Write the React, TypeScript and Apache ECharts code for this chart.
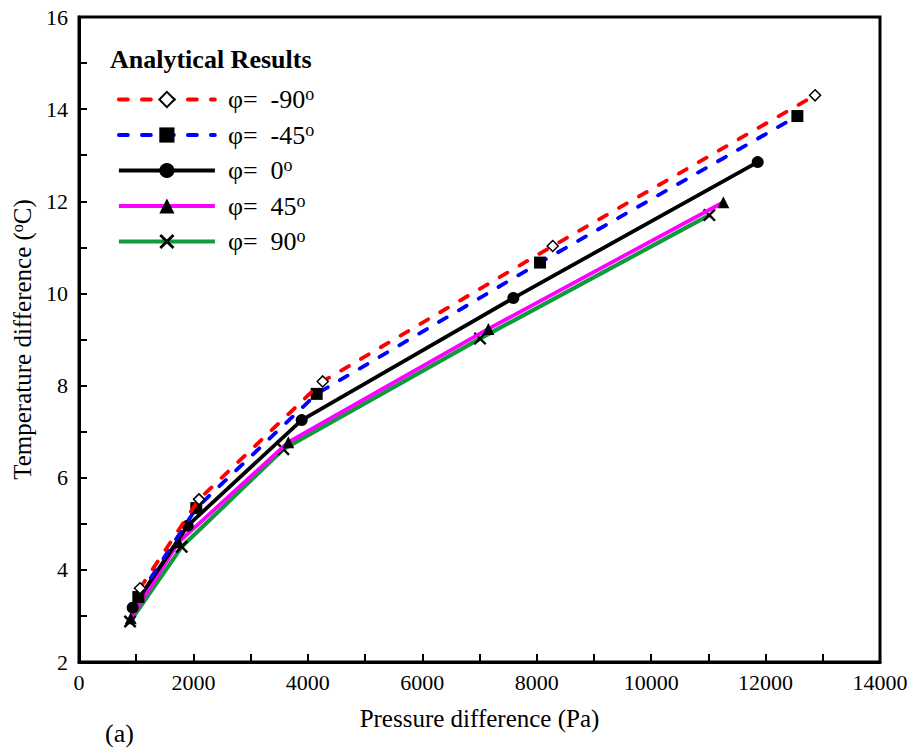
import React, { useEffect, useRef } from "react";
import * as echarts from "echarts";

const seriesNames = ["-90", "-45", "0", "45", "90"];
const pressM90 = [1066, 2097, 4260, 8280, 12865];
const tempM90 = [3.6, 5.53, 8.09, 11.03, 14.3];
const pressM45 = [1037, 2050, 4154, 8058, 12556];
const tempM45 = [3.41, 5.34, 7.82, 10.67, 13.85];
const press0 = [938, 1900, 3892, 7592, 11862];
const temp0 = [3.18, 4.96, 7.25, 9.9, 12.85];
const press45 = [905, 1740, 3659, 7155, 11262];
const temp45 = [2.95, 4.6, 6.77, 9.23, 11.98];
const press90 = [892, 1795, 3571, 7009, 11017];
const temp90 = [2.88, 4.5, 6.62, 9.02, 11.7];

const xTickStep = 1000;
const yTickStep = 1;

const FONT = "Liberation Serif";
const X_SYMBOL =
  "path://M0,1.3 L1.3,0 L5,3.7 L8.7,0 L10,1.3 L6.3,5 L10,8.7 L8.7,10 L5,6.3 L1.3,10 L0,8.7 L3.7,5 Z";

const zip = (xs: number[], ys: number[]) => xs.map((x, i) => [x, ys[i]]);

export default function App() {
  const ref = useRef<HTMLDivElement>(null);
  useEffect(() => {
    if (!ref.current) return;
    const chart = echarts.init(ref.current, null, { renderer: "svg" });
    const dash = [9, 14];
    chart.setOption({
      animation: false,
      backgroundColor: "#ffffff",
      grid: {
        left: 79,
        right: 36,
        top: 17,
        bottom: 90,
        show: true,
        borderColor: "#000",
        borderWidth: 3,
        backgroundColor: "transparent",
      },
      xAxis: {
        type: "value",
        min: 0,
        max: 14000,
        interval: xTickStep,
        name: "Pressure difference (Pa)",
        nameLocation: "middle",
        nameGap: 44,
        nameTextStyle: { fontFamily: FONT, fontSize: 25, color: "#000" },
        axisLine: { show: true, lineStyle: { color: "#000", width: 3 } },
        axisTick: { show: true, inside: true, length: 8, lineStyle: { color: "#000", width: 2 } },
        splitLine: { show: false },
        axisLabel: {
          fontFamily: FONT,
          fontSize: 22,
          color: "#000",
          margin: 9,
          formatter: (v: number) => (v % 2000 === 0 ? String(v) : ""),
        },
      },
      yAxis: {
        type: "value",
        min: 2,
        max: 16,
        interval: yTickStep,
        name: "Temperature difference ({sup|o}C)",
        nameLocation: "middle",
        nameGap: 43,
        nameTextStyle: {
          fontFamily: FONT,
          fontSize: 25,
          color: "#000",
          rich: {
            sup: { fontFamily: FONT, fontSize: 16, color: "#000", padding: [0, 0, 10, 0] },
          },
        },
        axisLine: { show: true, lineStyle: { color: "#000", width: 3 } },
        axisTick: { show: true, inside: true, length: 8, lineStyle: { color: "#000", width: 2 } },
        splitLine: { show: false },
        axisLabel: {
          fontFamily: FONT,
          fontSize: 22,
          color: "#000",
          margin: 11,
          formatter: (v: number) => (v % 2 === 0 ? String(v) : ""),
        },
      },
      legend: {
        left: 112,
        top: 80,
        orient: "vertical",
        itemWidth: 96,
        itemHeight: 19,
        itemGap: 8,
        data: seriesNames,
        lineStyle: { width: 3.8 },
        formatter: (name: string) => `{m|φ=  ${name}}{sup|o}`,
        textStyle: {
          fontFamily: FONT,
          fontSize: 26,
          color: "#000",
          padding: [0, 0, 0, 8],
          rich: {
            m: { fontFamily: FONT, fontSize: 26, color: "#000", lineHeight: 26 },
            sup: { fontFamily: FONT, fontSize: 18, color: "#000", padding: [0, 0, 11, 0] },
          },
        },
      },
      graphic: [
        {
          type: "text",
          left: 110,
          top: 46,
          style: {
            text: "Analytical Results",
            fontFamily: FONT,
            fontSize: 26,
            fontWeight: "bold",
            fill: "#000",
          },
        },
        {
          type: "text",
          left: 105,
          top: 720,
          style: { text: "(a)", fontFamily: FONT, fontSize: 26, fill: "#000" },
        },
      ],
      series: [
        {
          name: "-90",
          type: "line",
          z: 6,
          data: zip(pressM90, tempM90),
          symbol: "diamond",
          symbolSize: 11,
          lineStyle: { color: "#ff0000", width: 3.8, type: dash, cap: "round" },
          itemStyle: { color: "#ffffff", borderColor: "#000", borderWidth: 1.5 },
        },
        {
          name: "-45",
          type: "line",
          z: 5,
          data: zip(pressM45, tempM45),
          symbol: "rect",
          symbolSize: 12,
          lineStyle: { color: "#0000ff", width: 3.8, type: dash, cap: "round" },
          itemStyle: { color: "#000000", borderWidth: 0 },
        },
        {
          name: "0",
          type: "line",
          z: 4,
          data: zip(press0, temp0),
          symbol: "circle",
          symbolSize: 12,
          lineStyle: { color: "#000000", width: 3.8 },
          itemStyle: { color: "#000000", borderWidth: 0 },
        },
        {
          name: "45",
          type: "line",
          z: 3,
          data: zip(press45, temp45),
          symbol: "triangle",
          symbolSize: 12,
          lineStyle: { color: "#ff00ff", width: 3.8 },
          itemStyle: { color: "#000000", borderWidth: 0 },
        },
        {
          name: "90",
          type: "line",
          z: 2,
          data: zip(press90, temp90),
          symbol: X_SYMBOL,
          symbolSize: 13,
          lineStyle: { color: "#109a3c", width: 4.2 },
          itemStyle: { color: "#000000", borderWidth: 0 },
        },
      ],
    });
    return () => chart.dispose();
  }, []);
  return (
    <div
      ref={ref}
      style={{ position: "fixed", left: 0, top: 0, width: 916, height: 752 }}
    />
  );
}
